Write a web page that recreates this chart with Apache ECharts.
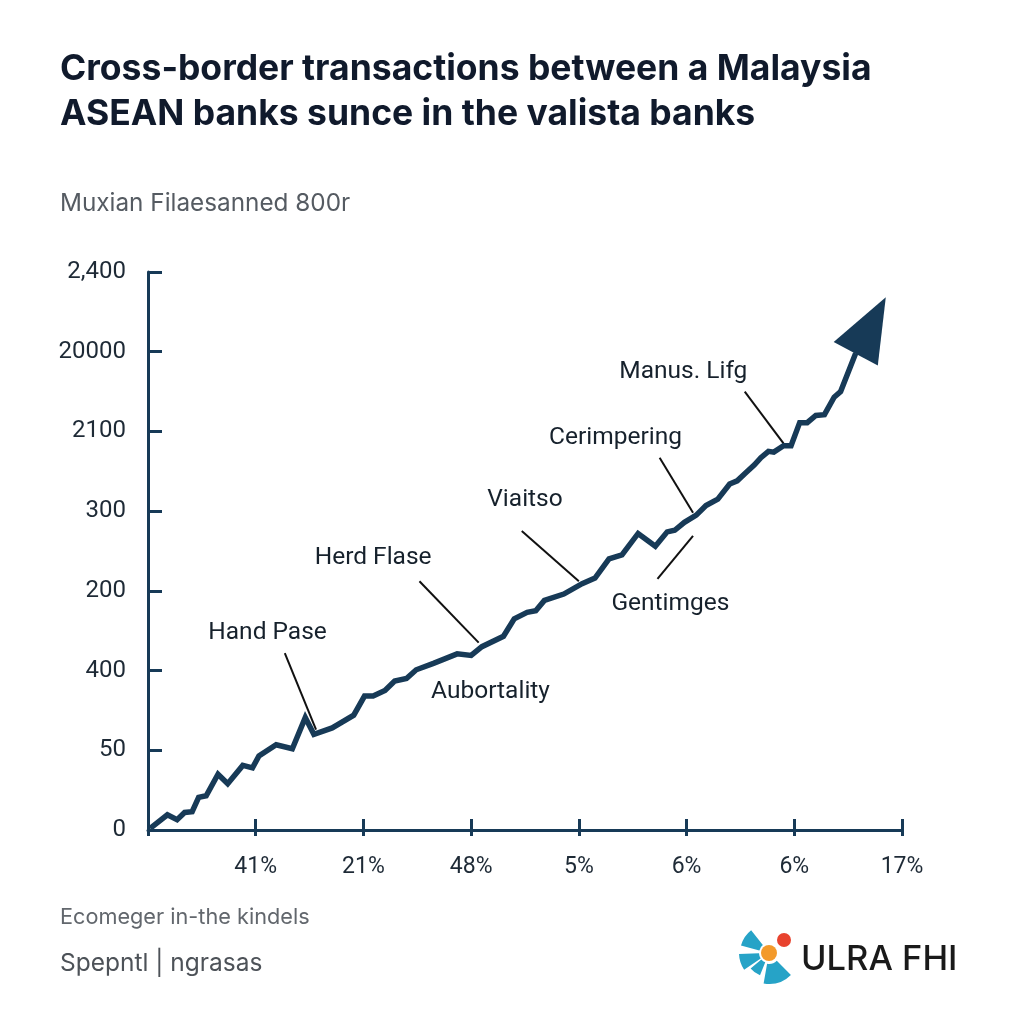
<!DOCTYPE html>
<html><head><meta charset="utf-8">
<script src="https://cdn.jsdelivr.net/npm/echarts@6/dist/echarts.min.js"></script>
<style>html,body{margin:0;padding:0;background:#fff}#c{width:1024px;height:1024px}</style>
</head><body><div id="c"></div>
<script>
// ---- data ----
const yTickLabels = ['0', '50', '400', '200', '300', '2100', '20000', '2,400'];
const xTickLabels = ['', '41%', '21%', '48%', '5%', '6%', '6%', '17%'];

const lineX = [0.02, 0.18, 0.27, 0.34, 0.41, 0.47, 0.54, 0.65, 0.74, 0.88, 0.97, 1.03, 1.19, 1.34, 1.46, 1.54, 1.71, 1.91, 2.01, 2.09, 2.20, 2.29, 2.40, 2.49, 2.65, 2.87, 3.00, 3.10, 3.30, 3.40, 3.52, 3.60, 3.68, 3.86, 4.03, 4.15, 4.28, 4.40, 4.55, 4.71, 4.82, 4.89, 4.98, 5.09, 5.18, 5.29, 5.40, 5.47, 5.54, 5.63, 5.69, 5.76, 5.81, 5.90, 5.97, 6.05, 6.12, 6.20, 6.28, 6.37, 6.43, 6.57];
const lineY = [0.02, 0.19, 0.13, 0.22, 0.23, 0.41, 0.43, 0.70, 0.58, 0.81, 0.78, 0.93, 1.07, 1.02, 1.41, 1.20, 1.28, 1.44, 1.68, 1.68, 1.75, 1.87, 1.90, 2.01, 2.09, 2.21, 2.19, 2.30, 2.43, 2.65, 2.73, 2.75, 2.88, 2.96, 3.09, 3.16, 3.40, 3.45, 3.72, 3.56, 3.74, 3.76, 3.86, 3.95, 4.07, 4.15, 4.34, 4.38, 4.47, 4.58, 4.67, 4.75, 4.74, 4.82, 4.82, 5.11, 5.11, 5.20, 5.21, 5.43, 5.50, 5.98];

const arrowHead = [6.71, 6.33];

const annotationNames = ['Manus. Lifg', 'Cerimpering', 'Viaitso', 'Herd Flase', 'Hand Pase', 'Gentimges', 'Aubortality'];
const annotationX = [4.97, 4.34, 3.50, 2.09, 1.11, 4.85, 3.18];
const annotationY = [5.75, 4.92, 4.14, 3.41, 2.47, 2.84, 1.73];

const leaderStart = [[5.54, 5.50], [4.75, 4.67], [3.47, 3.75], [2.52, 3.12], [1.27, 2.22], [5.06, 3.69]];
const leaderEnd = [[5.90, 4.85], [5.06, 3.98], [4.00, 3.12], [3.07, 2.35], [1.56, 1.26], [4.73, 3.15]];

// ---- chart ----
const navy = '#173a57';
const chart = echarts.init(document.getElementById('c'));
const axisCommon = {
  type: 'value', min: 0, max: 7, interval: 1,
  splitLine: { show: false }
};
chart.setOption({
  backgroundColor: '#ffffff',
  animation: false,
  grid: { left: 148, top: 272, right: 122, bottom: 194 },
  xAxis: [
    Object.assign({}, axisCommon, {
      axisLine: { lineStyle: { color: navy, width: 3 } },
      axisTick: { inside: true, length: 11, lineStyle: { color: navy, width: 3 } },
      axisLabel: { margin: 26, color: '#1e2a36', fontSize: 23, fontFamily: 'Roboto',
        formatter: v => xTickLabels[Math.round(v)] }
    }),
    Object.assign({}, axisCommon, {
      position: 'bottom',
      axisLine: { show: false },
      axisTick: { inside: false, length: 6, lineStyle: { color: navy, width: 3 } },
      axisLabel: { show: false }
    })
  ],
  yAxis: Object.assign({}, axisCommon, {
    axisLine: { show: true, lineStyle: { color: navy, width: 3 } },
    axisTick: { show: true, inside: true, length: 14, lineStyle: { color: navy, width: 3 } },
    axisLabel: { margin: 22, color: '#1e2a36', fontSize: 24, fontFamily: 'Roboto',
      formatter: v => yTickLabels[Math.round(v)] }
  }),
  series: [
    {
      type: 'line',
      data: lineX.map((x, i) => [x, lineY[i]]),
      symbol: 'none',
      lineStyle: { color: navy, width: 5.5, join: 'miter' },
      z: 3
    },
    {
      type: 'scatter',
      data: [arrowHead],
      symbol: 'triangle',
      symbolSize: [50, 64],
      symbolRotate: -28,
      itemStyle: { color: navy, opacity: 1 },
      z: 4
    },
    {
      type: 'lines',
      coordinateSystem: 'cartesian2d',
      data: leaderStart.map((s, i) => ({ coords: [s, leaderEnd[i]] })),
      lineStyle: { color: '#111111', width: 2, opacity: 1 },
      z: 2
    },
    {
      type: 'scatter',
      data: annotationNames.map((n, i) => ({ name: n, value: [annotationX[i], annotationY[i]] })),
      symbolSize: 1,
      itemStyle: { color: 'rgba(0,0,0,0)', opacity: 1 },
      label: { show: true, position: 'inside', formatter: p => p.name,
        color: '#16212c', fontSize: 24.5, fontFamily: 'Roboto' },
      z: 5
    }
  ],
  graphic: [
    { type: 'text', left: 60, top: 51, style: { text: 'Cross-border transactions between a Malaysia', fill: '#101a2c', font: 'bold 35.5px Inter' } },
    { type: 'text', left: 60, top: 96, style: { text: 'ASEAN banks sunce in the valista banks', fill: '#101a2c', font: 'bold 35.5px Inter' } },
    { type: 'text', left: 60, top: 192, style: { text: 'Muxian Filaesanned 800r', fill: '#555b62', font: '24.3px Inter' } },
    { type: 'text', left: 60, top: 906, style: { text: 'Ecomeger in-the kindels', fill: '#62676d', font: '21.7px Inter' } },
    { type: 'text', left: 60, top: 951, style: { text: 'Spepntl | ngrasas', fill: '#4d5258', font: '24.5px Inter' } },
    { type: 'sector', shape: { cx: 769, cy: 953, r0: 10, r: 29, startAngle: 195 * Math.PI / 180, endAngle: 232 * Math.PI / 180 }, style: { fill: '#26a3c7' } },
    { type: 'sector', shape: { cx: 769, cy: 953, r0: 10, r: 30, startAngle: 146 * Math.PI / 180, endAngle: 178 * Math.PI / 180 }, style: { fill: '#26a3c7' } },
    { type: 'sector', shape: { cx: 769, cy: 953, r0: 10, r: 24, startAngle: 112 * Math.PI / 180, endAngle: 140 * Math.PI / 180 }, style: { fill: '#26a3c7' } },
    { type: 'sector', shape: { cx: 769, cy: 953, r0: 11, r: 31, startAngle: 45 * Math.PI / 180, endAngle: 100 * Math.PI / 180 }, style: { fill: '#26a3c7' } },
    { type: 'circle', shape: { cx: 769, cy: 953, r: 8 }, style: { fill: '#f39a2b' } },
    { type: 'circle', shape: { cx: 784, cy: 940, r: 7 }, style: { fill: '#e8432e' } },
    { type: 'text', left: 801, top: 942, style: { text: 'ULRA FHI', fill: '#1a1a1a', font: '500 34.5px Inter' } }
  ]
});
</script>
</body></html>
